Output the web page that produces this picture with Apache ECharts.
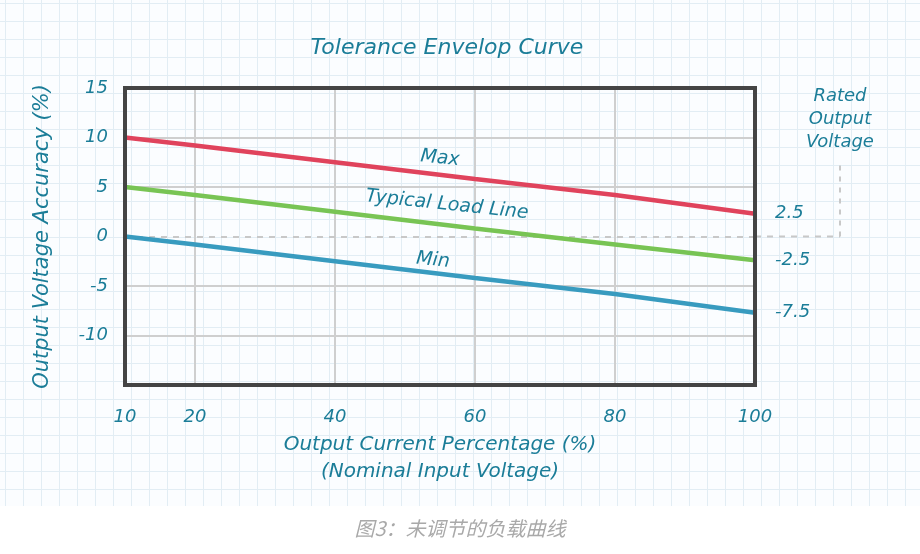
<!DOCTYPE html>
<html>
<head>
<meta charset="utf-8">
<script src="https://cdn.jsdelivr.net/npm/echarts@6/dist/echarts.min.js"></script>
<style>
  html, body { margin:0; padding:0; background:#fff; }
  #paper {
    position:absolute; left:0; top:0; width:920px; height:506px;
    background-color:#fbfdff;
    background-image:
      linear-gradient(to right, #e2edf4 1px, transparent 1px),
      linear-gradient(to bottom, #e2edf4 1px, transparent 1px);
    background-size:18px 18px;
    background-position: 5px 3px;
  }
  #chart { position:absolute; left:0; top:0; width:920px; height:554px; }
</style>
</head>
<body>
<div id="paper"></div>
<div id="chart"></div>
<script>
// ---- data ----
const xValues = [10, 20, 40, 60, 80, 100];
const maxValues = [10, 9.2, 7.5, 5.8, 4.2, 2.3];
const typicalValues = [5, 4.2, 2.5, 0.8, -0.8, -2.4];
const minValues = [0, -0.8, -2.5, -4.2, -5.8, -7.7];
const xTickLabels = [10, 20, 40, 60, 80, 100];
const yTickLabels = [15, 10, 5, 0, -5, -10];
const xGridLines = [20, 40, 60, 80];
const yGridLines = [10, 5, -5, -10];
const endLabels = ['2.5', '-2.5', '-7.5'];
const seriesNames = ['Max', 'Typical Load Line', 'Min'];
const seriesLabelPos = [[55, 7.9], [56, 3.2], [54, -2.4]];

const teal = '#1b7d98';
const font = 'DejaVu Sans';
const pair = (vals) => xValues.map((x, i) => [x, vals[i]]);

const chart = echarts.init(document.getElementById('chart'), null, { renderer: 'canvas' });

function mkSeries(idx, vals, color) {
  return {
    name: seriesNames[idx],
    type: 'line',
    data: pair(vals),
    symbol: 'none',
    z: 5,
    lineStyle: { color: color, width: 4.5 },
    endLabel: {
      show: true,
      formatter: endLabels[idx],
      color: teal,
      fontFamily: font,
      fontStyle: 'italic',
      fontSize: 18,
      distance: 20
    },
    markPoint: {
      symbol: 'circle',
      symbolSize: 1,
      silent: true,
      itemStyle: { color: 'rgba(0,0,0,0)' },
      data: [{
        coord: seriesLabelPos[idx],
        label: {
          show: true,
          formatter: seriesNames[idx],
          color: teal,
          fontFamily: font,
          fontStyle: 'italic',
          fontSize: 19,
          rotate: -6,
          position: 'inside'
        }
      }]
    }
  };
}

const option = {
  animation: false,
  backgroundColor: 'transparent',
  title: {
    text: 'Tolerance Envelop Curve',
    left: 442, top: 32, textAlign: 'center',
    textStyle: { color: teal, fontFamily: font, fontStyle: 'italic', fontWeight: 'normal', fontSize: 22 }
  },
  grid: {
    left: 125, right: 165, top: 88, bottom: 169,
    show: true, borderColor: '#444', borderWidth: 4, backgroundColor: 'transparent', z: 10
  },
  xAxis: {
    type: 'value', min: 10, max: 100, interval: 10,
    axisLine: { show: false }, axisTick: { show: false }, splitLine: { show: false },
    axisLabel: {
      color: teal, fontFamily: font, fontStyle: 'italic', fontSize: 18, margin: 23,
      formatter: v => xTickLabels.includes(v) ? String(v) : ''
    },
    name: 'Output Current Percentage (%)\n(Nominal Input Voltage)',
    nameLocation: 'middle', nameGap: 44,
    nameTextStyle: { color: teal, fontFamily: font, fontStyle: 'italic', fontSize: 20, lineHeight: 27 }
  },
  yAxis: {
    type: 'value', min: -15, max: 15, interval: 5,
    axisLine: { show: false }, axisTick: { show: false }, splitLine: { show: false },
    axisLabel: {
      color: teal, fontFamily: font, fontStyle: 'italic', fontSize: 18, margin: 17,
      formatter: v => yTickLabels.includes(v) ? String(v) : ''
    },
    name: 'Output Voltage Accuracy (%)',
    nameLocation: 'middle', nameGap: 72, nameRotate: 90,
    nameTextStyle: { color: teal, fontFamily: font, fontStyle: 'italic', fontSize: 21 }
  },
  series: [
    {
      type: 'line', data: [], silent: true, z: 1,
      markLine: {
        symbol: 'none', silent: true, label: { show: false },
        data: [
          ...xGridLines.map(x => ({ xAxis: x, lineStyle: { color: '#cfcfcf', width: 2, type: 'solid' } })),
          ...yGridLines.map(y => ({ yAxis: y, lineStyle: { color: '#cfcfcf', width: 2, type: 'solid' } })),
          { yAxis: 0, lineStyle: { color: '#c8c8c8', width: 2, type: [6, 6] } }
        ]
      }
    },
    mkSeries(0, maxValues, '#e0435c'),
    mkSeries(1, typicalValues, '#78c454'),
    mkSeries(2, minValues, '#389bbf')
  ]
};
chart.setOption(option);

// outside annotations positioned through the chart's scales
const p0 = chart.convertToPixel({ gridIndex: 0 }, [100, 0]);
const pTop = chart.convertToPixel({ gridIndex: 0 }, [100, 7.3]);
const xr = 840;
chart.setOption({
  graphic: [
    { type: 'line', shape: { x1: p0[0], y1: p0[1], x2: xr, y2: p0[1] },
      style: { stroke: '#c8c8c8', lineWidth: 2, lineDash: [6, 6] }, silent: true },
    { type: 'line', shape: { x1: xr, y1: p0[1], x2: xr, y2: pTop[1] },
      style: { stroke: '#c8c8c8', lineWidth: 2, lineDash: [5, 6] }, silent: true },
    { type: 'text', x: xr, y: 85,
      style: { text: 'Rated\nOutput\nVoltage', fill: teal, font: 'italic 18px "DejaVu Sans"', textAlign: 'center', lineHeight: 23 } },
    { type: 'text', x: 460, y: 518,
      style: { text: '图3：未调节的负载曲线', fill: '#a9a9a9', font: 'italic 20px "Noto Sans CJK SC"', textAlign: 'center' } }
  ]
});
</script>
</body>
</html>
